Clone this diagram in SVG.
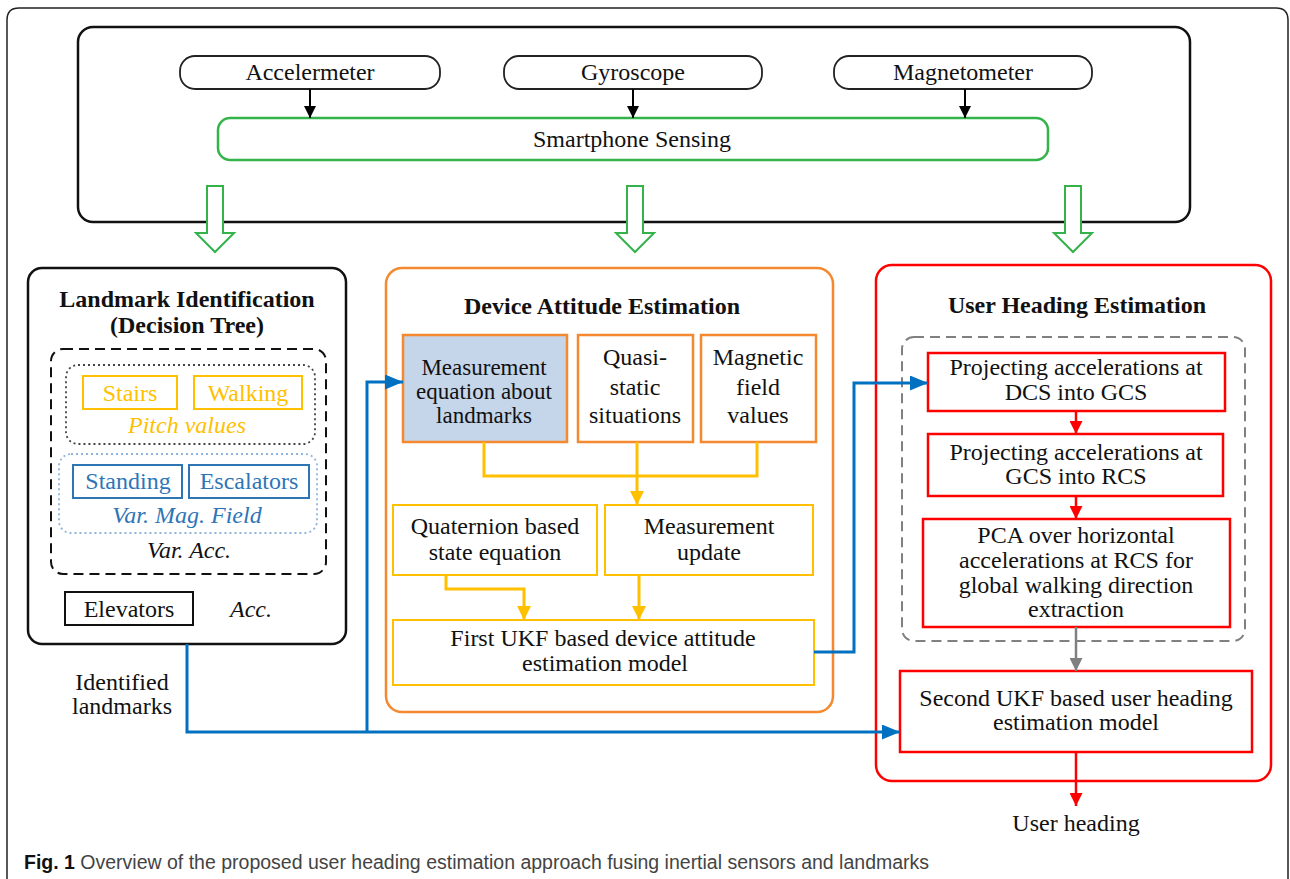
<svg xmlns="http://www.w3.org/2000/svg" width="1290" height="879" viewBox="0 0 1290 879" font-family="Liberation Serif, serif">
<style>
  .t{font-size:24px;text-anchor:middle;fill:#111}
  .b{font-weight:bold}
  .i{font-style:italic}
  .y{fill:#ffc000}
  .bl{fill:#2e75b6}
  .s{font-size:23px}
</style>
<defs>
  <marker id="mk" markerUnits="userSpaceOnUse" markerWidth="12" markerHeight="12" refX="12" refY="6" orient="auto"><path d="M0,0 L12,6 L0,12 z" fill="#000"/></marker>
  <marker id="mb" markerUnits="userSpaceOnUse" markerWidth="18" markerHeight="15" refX="18" refY="7.5" orient="auto"><path d="M0,0 L18,7.5 L0,15 z" fill="#0070c0"/></marker>
  <marker id="my" markerUnits="userSpaceOnUse" markerWidth="14" markerHeight="14" refX="14" refY="7" orient="auto"><path d="M0,0 L14,7 L0,14 z" fill="#ffc000"/></marker>
  <marker id="mr" markerUnits="userSpaceOnUse" markerWidth="13" markerHeight="13" refX="13" refY="6.5" orient="auto"><path d="M0,0 L13,6.5 L0,13 z" fill="#ff0000"/></marker>
  <marker id="mg" markerUnits="userSpaceOnUse" markerWidth="13" markerHeight="13" refX="13" refY="6.5" orient="auto"><path d="M0,0 L13,6.5 L0,13 z" fill="#808080"/></marker>
</defs>
<rect width="1290" height="879" fill="#fff"/>
<path d="M7,879 V20 Q7,8 19,8 H1276 Q1288,8 1288,20 V879" fill="none" stroke="#222" stroke-width="1.5"/>

<g id="sensors">
  <rect x="78" y="27" width="1112" height="195" rx="15" fill="none" stroke="#111" stroke-width="2.5"/>
</g>
<g id="accelermeter"><rect x="180" y="56" width="260" height="33" rx="15" fill="#fff" stroke="#222" stroke-width="1.8"/><text class="t" style="font-family:'Liberation Serif'" x="310" y="80">Accelermeter</text></g>
<g id="gyroscope"><rect x="504" y="56" width="258" height="33" rx="15" fill="#fff" stroke="#222" stroke-width="1.8"/><text class="t" style="font-family:'Liberation Serif'" x="633" y="80">Gyroscope</text></g>
<g id="magnetometer"><rect x="834" y="56" width="258" height="33" rx="15" fill="#fff" stroke="#222" stroke-width="1.8"/><text class="t" style="font-family:'Liberation Serif'" x="963" y="80">Magnetometer</text></g>
<g id="smartphone"><rect x="218" y="118" width="830" height="42" rx="12" fill="#fff" stroke="#33b34a" stroke-width="2.5"/><text class="t" style="font-family:'Liberation Serif'" x="632" y="147">Smartphone Sensing</text></g>

<g id="green-arrows" fill="#fff" stroke="#33b34a" stroke-width="2">
  <polygon points="207,186 223,186 223,233 234,233 215,252 196,233 207,233"/>
  <polygon points="627,186 643,186 643,233 654,233 635,252 616,233 627,233"/>
  <polygon points="1065,186 1081,186 1081,233 1092,233 1073,252 1054,233 1065,233"/>
</g>

<g id="landmark">
  <rect x="28" y="268" width="318" height="376" rx="14" fill="none" stroke="#111" stroke-width="2.5"/>
  <text class="t b" style="font-family:'Liberation Serif'" x="187" y="307">Landmark Identification</text>
  <text class="t b" style="font-family:'Liberation Serif'" x="187" y="333">(Decision Tree)</text>
  <rect x="51" y="349" width="275" height="225" rx="12" fill="none" stroke="#111" stroke-width="2" stroke-dasharray="10,6"/>
  <rect x="66" y="365" width="249" height="79" rx="12" fill="none" stroke="#444" stroke-width="1.8" stroke-dasharray="2,3"/>
  <rect x="59" y="454" width="258" height="79" rx="12" fill="none" stroke="#8fb4dd" stroke-width="1.8" stroke-dasharray="2,3"/>
  <text class="t i" style="font-family:'Liberation Serif'" x="189" y="558">Var. Acc.</text>
</g>
<g id="stairs"><rect x="83" y="376" width="94" height="33" fill="#fff" stroke="#ffc000" stroke-width="2"/><text class="t y" style="font-family:'Liberation Serif'" x="130" y="401">Stairs</text></g>
<g id="walking"><rect x="194" y="376" width="108" height="33" fill="#fff" stroke="#ffc000" stroke-width="2"/><text class="t y" style="font-family:'Liberation Serif'" x="248" y="401">Walking</text></g>
<text class="t i y" style="font-family:'Liberation Serif'" x="187" y="433">Pitch values</text>
<g id="standing"><rect x="73" y="465" width="109" height="33" fill="#fff" stroke="#2e75b6" stroke-width="2"/><text class="t bl" style="font-family:'Liberation Serif'" x="128" y="489">Standing</text></g>
<g id="escalators"><rect x="189" y="465" width="120" height="33" fill="#fff" stroke="#2e75b6" stroke-width="2"/><text class="t bl" style="font-family:'Liberation Serif'" x="249" y="489">Escalators</text></g>
<text class="t i bl" style="font-family:'Liberation Serif'" x="187" y="523">Var. Mag. Field</text>
<g id="elevators"><rect x="65" y="592" width="128" height="33" fill="#fff" stroke="#111" stroke-width="2"/><text class="t" style="font-family:'Liberation Serif'" x="129" y="617">Elevators</text></g>
<text class="t i" style="font-family:'Liberation Serif'" x="251" y="617">Acc.</text>
<text class="t" style="font-family:'Liberation Serif'" x="122" y="690">Identified</text>
<text class="t" style="font-family:'Liberation Serif'" x="122" y="714">landmarks</text>

<g id="device">
  <rect x="386" y="268" width="447" height="444" rx="16" fill="none" stroke="#f4892f" stroke-width="2.5"/>
  <text class="t b" style="font-family:'Liberation Serif'" x="602" y="314">Device Attitude Estimation</text>
</g>
<g id="meas-eq"><rect x="403" y="335" width="164" height="107" fill="#c5d5ea" stroke="#f4892f" stroke-width="2.5"/>
  <text class="t s" style="font-family:'Liberation Serif'" x="484" y="375">Measurement</text><text class="t s" style="font-family:'Liberation Serif'" x="484" y="399">equation about</text><text class="t s" style="font-family:'Liberation Serif'" x="484" y="423">landmarks</text></g>
<g id="quasi"><rect x="578" y="335" width="115" height="107" fill="#fff" stroke="#f4892f" stroke-width="2.5"/>
  <text class="t" style="font-family:'Liberation Serif'" x="635" y="365">Quasi-</text><text class="t" style="font-family:'Liberation Serif'" x="635" y="395">static</text><text class="t" style="font-family:'Liberation Serif'" x="635" y="423">situations</text></g>
<g id="magfield"><rect x="701" y="335" width="115" height="107" fill="#fff" stroke="#f4892f" stroke-width="2.5"/>
  <text class="t" style="font-family:'Liberation Serif'" x="758" y="365">Magnetic</text><text class="t" style="font-family:'Liberation Serif'" x="758" y="395">field</text><text class="t" style="font-family:'Liberation Serif'" x="758" y="423">values</text></g>
<g id="quaternion"><rect x="393" y="505" width="204" height="70" fill="#fff" stroke="#ffc000" stroke-width="2"/>
  <text class="t" style="font-family:'Liberation Serif'" x="495" y="534">Quaternion based</text><text class="t" style="font-family:'Liberation Serif'" x="495" y="560">state equation</text></g>
<g id="meas-update"><rect x="605" y="505" width="208" height="70" fill="#fff" stroke="#ffc000" stroke-width="2"/>
  <text class="t" style="font-family:'Liberation Serif'" x="709" y="534">Measurement</text><text class="t" style="font-family:'Liberation Serif'" x="709" y="560">update</text></g>
<g id="first-ukf"><rect x="393" y="620" width="421" height="65" fill="#fff" stroke="#ffc000" stroke-width="2"/>
  <text class="t" style="font-family:'Liberation Serif'" x="603" y="646">First UKF based device attitude</text><text class="t" style="font-family:'Liberation Serif'" x="605" y="671">estimation model</text></g>

<g id="user">
  <rect x="876" y="265" width="395" height="516" rx="16" fill="none" stroke="#ff0000" stroke-width="2.5"/>
  <text class="t b" style="font-family:'Liberation Serif'" x="1077" y="313">User Heading Estimation</text>
  <rect x="902" y="337" width="343" height="304" rx="12" fill="none" stroke="#808080" stroke-width="2" stroke-dasharray="10,6"/>
</g>
<g id="proj1"><rect x="928" y="353" width="297" height="58" fill="#fff" stroke="#ff0000" stroke-width="2.5"/>
  <text class="t" style="font-family:'Liberation Serif'" x="1076" y="375">Projecting accelerations at</text><text class="t" style="font-family:'Liberation Serif'" x="1076" y="400">DCS into GCS</text></g>
<g id="proj2"><rect x="928" y="434" width="295" height="62" fill="#fff" stroke="#ff0000" stroke-width="2.5"/>
  <text class="t" style="font-family:'Liberation Serif'" x="1076" y="460">Projecting accelerations at</text><text class="t" style="font-family:'Liberation Serif'" x="1076" y="484">GCS into RCS</text></g>
<g id="pca"><rect x="923" y="519" width="307" height="108" fill="#fff" stroke="#ff0000" stroke-width="2.5"/>
  <text class="t" style="font-family:'Liberation Serif'" x="1076" y="543">PCA over horizontal</text><text class="t" style="font-family:'Liberation Serif'" x="1076" y="568">accelerations at RCS for</text><text class="t" style="font-family:'Liberation Serif'" x="1076" y="593">global walking direction</text><text class="t" style="font-family:'Liberation Serif'" x="1076" y="617">extraction</text></g>
<g id="second-ukf"><rect x="900" y="671" width="352" height="81" fill="#fff" stroke="#ff0000" stroke-width="2.5"/>
  <text class="t" style="font-family:'Liberation Serif'" x="1076" y="706">Second UKF based user heading</text><text class="t" style="font-family:'Liberation Serif'" x="1076" y="730">estimation model</text></g>
<text class="t" style="font-family:'Liberation Serif'" x="1076" y="831">User heading</text>

<g id="connectors" fill="none">
  <path d="M310,89 V118" stroke="#000" stroke-width="2" marker-end="url(#mk)"/>
  <path d="M633,89 V118" stroke="#000" stroke-width="2" marker-end="url(#mk)"/>
  <path d="M965,89 V118" stroke="#000" stroke-width="2" marker-end="url(#mk)"/>
  <path d="M484,442 V476 H757 V442" stroke="#ffc000" stroke-width="3"/>
  <path d="M637,442 V505" stroke="#ffc000" stroke-width="3" marker-end="url(#my)"/>
  <path d="M446,575 V589 H524 V620" stroke="#ffc000" stroke-width="3" marker-end="url(#my)"/>
  <path d="M639,575 V620" stroke="#ffc000" stroke-width="3" marker-end="url(#my)"/>
  <path d="M187,644 V732 H900" stroke="#0070c0" stroke-width="3" marker-end="url(#mb)"/>
  <path d="M367,732 V382 H403" stroke="#0070c0" stroke-width="3" marker-end="url(#mb)"/>
  <path d="M814,652 H854 V383 H928" stroke="#0070c0" stroke-width="3" marker-end="url(#mb)"/>
  <path d="M1076,411 V434" stroke="#ff0000" stroke-width="2.5" marker-end="url(#mr)"/>
  <path d="M1076,496 V519" stroke="#ff0000" stroke-width="2.5" marker-end="url(#mr)"/>
  <path d="M1076,627 V671" stroke="#808080" stroke-width="2.5" marker-end="url(#mg)"/>
  <path d="M1076,752 V806" stroke="#ff0000" stroke-width="2.5" marker-end="url(#mr)"/>
</g>

<text x="24" y="869" font-family="Liberation Sans, sans-serif" font-size="19.5" fill="#444"><tspan font-weight="bold" fill="#111">Fig. 1</tspan> Overview of the proposed user heading estimation approach fusing inertial sensors and landmarks</text>
</svg>
